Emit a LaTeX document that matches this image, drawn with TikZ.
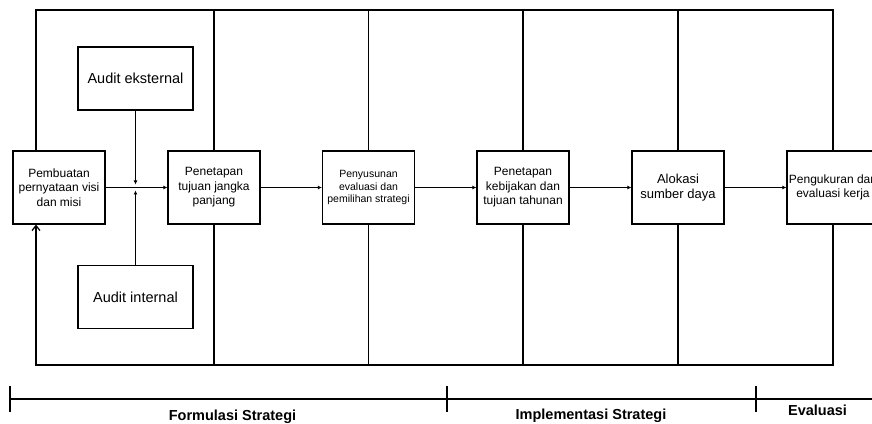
\documentclass[tikz,border=0pt]{standalone}
\usepackage{fontspec}
\setmainfont{Liberation Sans}
\usetikzlibrary{arrows.meta}
\begin{document}
\begin{tikzpicture}[x=1pt,y=1pt,line width=1.25pt,
  box/.style={draw,minimum width=92pt,minimum height=73pt,align=center,inner sep=1pt,font=\fontsize{12}{14.4}\selectfont},
  audit/.style={draw,minimum width=115pt,minimum height=63pt,font=\fontsize{14.5}{17}\selectfont},
  flow/.style={-{Latex[length=4pt,width=4pt]}},
  back/.style={-{Straight Barb[length=5pt,width=8pt]}},
  phase/.style={anchor=base,font=\fontsize{14.5}{17}\selectfont\bfseries}]
\useasboundingbox (0,0) rectangle (872,423);

\coordinate (top) at (0,413);
\coordinate (bot) at (0,58);

\node[box] (b1) at (59,235.5) {Pembuatan\\pernyataan visi\\dan misi};
\node[box] (b2) at (214,235.5) {Penetapan\\tujuan jangka\\panjang};
\node[box,font=\fontsize{10.5}{12.6}\selectfont] (b3) at (368.5,235.5) {Penyusunan\\evaluasi dan\\pemilihan strategi};
\node[box] (b4) at (523,235.5) {Penetapan\\kebijakan dan\\tujuan tahunan};
\node[box,font=\fontsize{13}{15.6}\selectfont] (b5) at (678,235.5) {Alokasi\\sumber daya};
\node[box] (b6) at (833,235.5) {Pengukuran dan\\evaluasi kerja};

\node[audit] (ext) at (135.5,344.5) {Audit eksternal};
\node[audit] (int) at (135.5,126) {Audit internal};

% alur utama
\draw[flow] (b1) -- (b2);
\draw[flow] (b2) -- (b3);
\draw[flow] (b3) -- (b4);
\draw[flow] (b4) -- (b5);
\draw[flow] (b5) -- (b6);
\draw[flow] (ext.south) -- ([yshift=3pt]ext.south |- b1.east);
\draw[flow] (int.north) -- ([yshift=-3pt]int.north |- b1.east);

% garis atas dan umpan balik
\coordinate (up) at ([xshift=-23pt]b1.north);
\coordinate (loop) at ([xshift=-23pt]b1.south);
\draw (up) |- (top -| b6.north) -- (b6.north);
\draw[back] (b6.south) |- (bot -| loop) -- (loop);
\foreach \n in {b2,b3,b4,b5}
  \draw (\n.north) -- (\n.north |- top) (\n.south) -- (\n.south |- bot);

% tahapan
\coordinate (t1) at (10,24);
\coordinate (t2) at (447,24);
\coordinate (t3) at (756,24);
\coordinate (t4) at (880,24);
\draw (t1) -- (t4);
\foreach \t in {t1,t2,t3}
  \draw ([yshift=13pt]\t) -- ([yshift=-13pt]\t);
\node[phase] (f) at (232.5,3) {Formulasi Strategi};
\node[phase] (i) at (591,3.5) {Implementasi Strategi};
\node[phase] (e) at (817.5,7.5) {Evaluasi};

\end{tikzpicture}
\end{document}
